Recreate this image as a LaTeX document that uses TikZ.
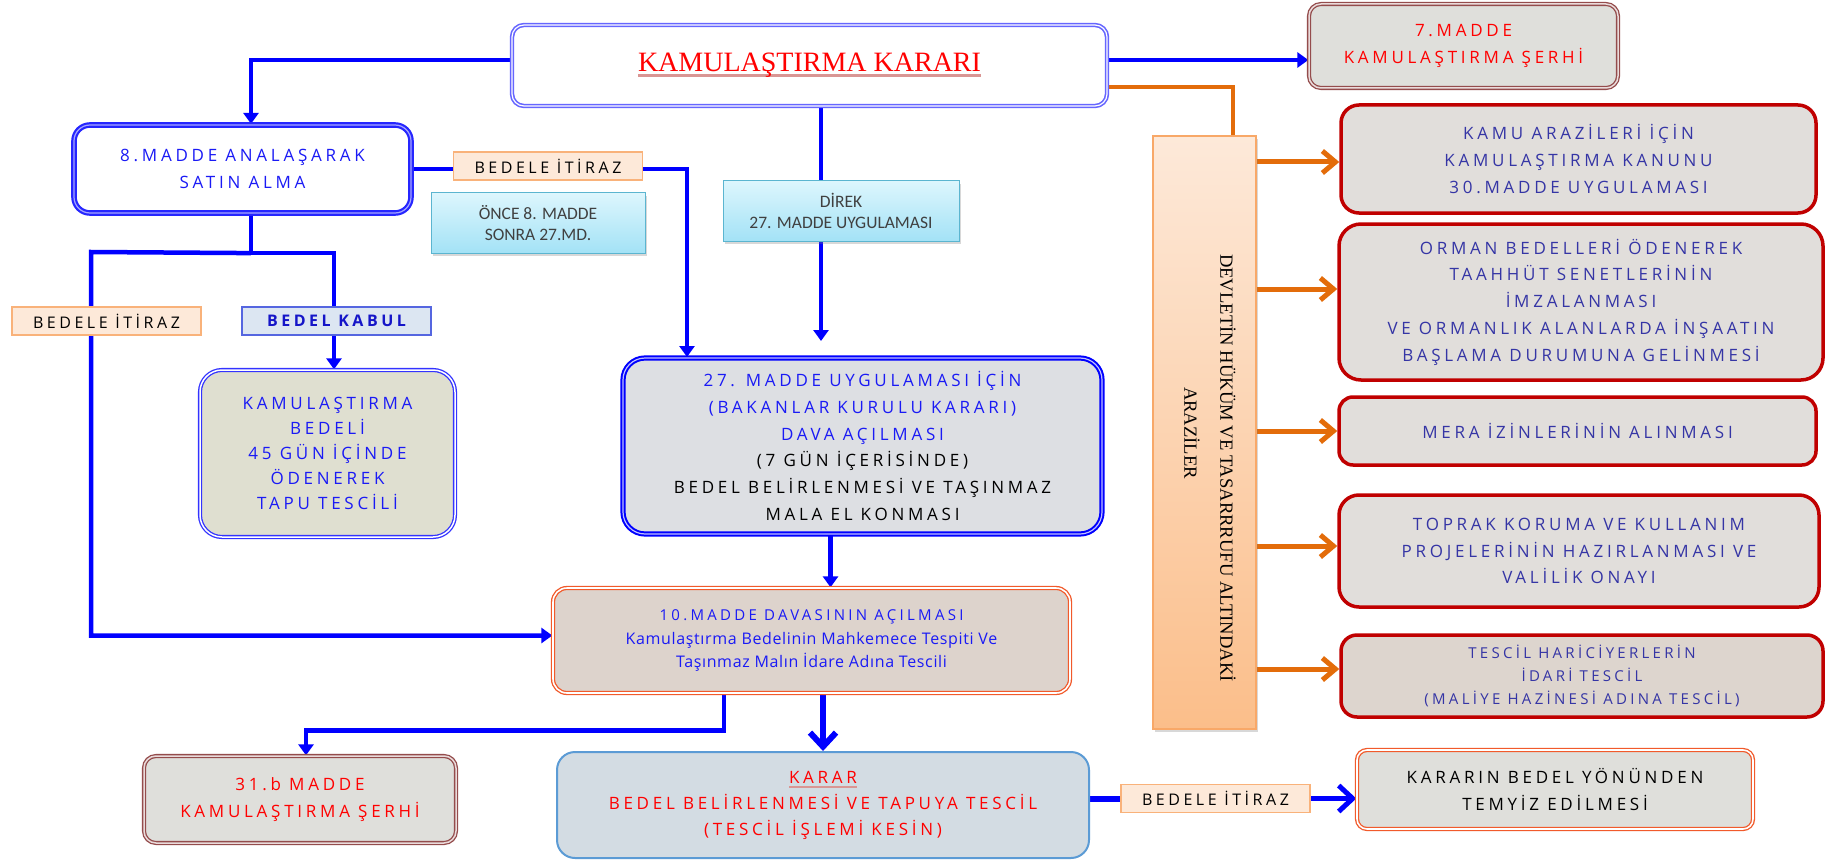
\documentclass[tikz,border=0pt]{standalone}
\usepackage{fontspec}
\setmainfont{Open Sans}[LetterSpace=22]
\newfontfamily\darfont{Open Sans}[LetterSpace=4]
\newfontfamily\serifyazi{Liberation Serif}
\newfontfamily\kalibri{Carlito}
\usetikzlibrary{arrows.meta, shadows, backgrounds, calc}

\definecolor{mavi}{HTML}{0000FF}
\definecolor{yazimavi}{HTML}{1A1AF5}
\definecolor{koyumavi}{HTML}{3535A5}
\definecolor{kirmizi}{HTML}{FF0000}
\definecolor{altcizgi}{HTML}{D99694}
\definecolor{turuncu}{HTML}{E36C0A}
\definecolor{bordo}{HTML}{C00000}
\definecolor{kahve}{HTML}{944C4C}
\definecolor{mercan}{HTML}{F15A2B}
\definecolor{seftali}{HTML}{FDE9D9}
\definecolor{seftalicizgi}{HTML}{F9B27A}
\definecolor{gri}{HTML}{E1DEDB}
\definecolor{r5dolgu}{HTML}{DDD5CE}
\definecolor{m27dolgu}{HTML}{DDDFE3}
\definecolor{bedeldolgu}{HTML}{DFDFD0}
\definecolor{m10dolgu}{HTML}{DDD3CC}
\definecolor{kesindolgu}{HTML}{D3DCE3}
\definecolor{kesincizgi}{HTML}{5B9BD5}
\definecolor{serhdolgu}{HTML}{DFDFDB}
\definecolor{camust}{HTML}{DDF6FD}
\definecolor{camalt}{HTML}{A3E2F6}
\definecolor{camcizgi}{HTML}{5BB5D0}
\definecolor{yazigri}{HTML}{404040}
\definecolor{kabuldolgu}{HTML}{DCE6F2}
\definecolor{kabulcizgi}{HTML}{5566E0}
\definecolor{kabulyazi}{HTML}{1515C8}
\definecolor{verust}{HTML}{FDE9D9}
\definecolor{veralt}{HTML}{FBBE8A}
\definecolor{vercizgi}{HTML}{F8A868}

% altı çizili yazı: #1 çizgi rengi, #2 yazı
\newcommand{\altcizgi}[2]{%
  \setbox0=\hbox{#2}%
  \rlap{\color{#1}\rule[-5pt]{\wd0}{2.5pt}}\box0}

\begin{document}
\begin{tikzpicture}[
  x=1pt, y=-1pt,
  kutu/.style={rounded corners=#1, align=center, inner sep=0pt},
  cizgi/.style={mavi, line width=4.5pt},
  ok/.style={cizgi, -{Triangle[length=11pt, width=15pt]}},
  kalinok/.style={mavi, line width=6pt, -{Straight Barb[length=14pt, width=26pt]}},
  turuncuok/.style={turuncu, line width=5pt, -{Straight Barb[length=13pt, width=22pt]}},
  etiket/.style={draw=seftalicizgi, fill=seftali, line width=1.5pt,
    minimum width=189pt, minimum height=28pt, inner sep=0pt,
    font=\fontsize{16}{20}\selectfont},
  camgobegi/.style={draw=camcizgi, top color=camust, bottom color=camalt,
    line width=1pt, minimum height=60pt, align=center, text=yazigri,
    font=\kalibri\fontsize{17.5}{21}\selectfont,
    drop shadow={shadow xshift=2pt, shadow yshift=-3pt, opacity=.3}},
  serh/.style={kutu=12pt, draw=kahve, double=kahve!20, line width=1.3pt,
    double distance=1.5pt, fill=serhdolgu, text=kirmizi,
    font=\fontsize{17}{26.7}\selectfont},
  ]
  % sayfa ve zemin
  \begin{pgfonlayer}{background}
    \path[use as bounding box, fill=white] (0,0) rectangle (1827,861);
  \end{pgfonlayer}

  % ana karar kutusu
  \node[kutu=12pt, draw=blue!60, double=white, line width=1.6pt,
  double distance=1.2pt, fill=white, minimum width=595pt, minimum height=81pt,
  text=kirmizi] (karar) at (809.5,65.5)
  {\serifyazi\fontsize{28}{32}\selectfont\altcizgi{altcizgi}{KAMULAŞTIRMA KARARI}};
  \node[serh, minimum width=309pt, minimum height=84pt] (serh7) at (1463.5,46)
  {7.MADDE\\KAMULAŞTIRMA ŞERHİ};

  % sol kol: anlaşarak satın alma
  \node[kutu=16pt, draw=mavi!85, double=mavi!35, line width=2.2pt,
  double distance=1.2pt, fill=white, minimum width=337pt, minimum height=88pt,
  text=yazimavi, font=\fontsize{17}{27}\selectfont] (madde8) at (242.5,169)
  {8.MADDE ANALAŞARAK\\SATIN ALMA};
  \node[etiket] (itiraz1) at (548,166) {BEDELE İTİRAZ};
  \node[camgobegi, minimum width=214pt] (once) at (538,223)
  {ÖNCE 8. MADDE\\SONRA 27.MD.};
  \node[etiket] (itiraz2) at (106.5,321) {BEDELE İTİRAZ};
  \node[draw=kabulcizgi, fill=kabuldolgu, line width=1.5pt, minimum width=189pt,
  minimum height=28pt, inner sep=0pt, text=kabulyazi,
  font=\bfseries\fontsize{16}{20}\selectfont] (kabul) at (336.5,321) {BEDEL KABUL};
  \node[kutu=22pt, draw=mavi!80, double=white, line width=1.3pt,
  double distance=1.5pt, fill=bedeldolgu, minimum width=255pt,
  minimum height=167pt, text=yazimavi, font=\fontsize{17}{25}\selectfont]
  (bedel) at (327.5,453.5)
  {KAMULAŞTIRMA\\BEDELİ\\45 GÜN İÇİNDE\\ÖDENEREK\\TAPU TESCİLİ};

  % orta kol: 27. madde
  \node[camgobegi, minimum width=236pt] (direk) at (841,211)
  {DİREK\\27. MADDE UYGULAMASI};
  \node[kutu=22pt, draw=mavi, double=mavi!25, line width=2pt,
  double distance=1.2pt, fill=m27dolgu, minimum width=479pt,
  minimum height=176pt, font=\fontsize{17}{26.7}\selectfont] (m27) at (862.5,446)
  {\textcolor{yazimavi}{27. MADDE UYGULAMASI İÇİN}\\
   \textcolor{yazimavi}{(BAKANLAR KURULU KARARI)}\\
   \textcolor{yazimavi}{DAVA AÇILMASI}\\
   (7 GÜN İÇERİSİNDE)\\
   BEDEL BELİRLENMESİ VE TAŞINMAZ\\
   MALA EL KONMASI};
  \node[kutu=14pt, draw=mercan, double=white, line width=1.3pt,
  double distance=1.6pt, fill=m10dolgu, minimum width=517pt,
  minimum height=105pt, text=yazimavi, font=\fontsize{15}{23.3}\selectfont]
  (m10) at (811.5,640.5)
  {10.MADDE DAVASININ AÇILMASI\\
   {\darfont\fontsize{16}{23.3}\selectfont Kamulaştırma Bedelinin Mahkemece Tespiti Ve}\\
   {\darfont\fontsize{16}{23.3}\selectfont Taşınmaz Malın İdare Adına Tescili}};

  % alt sıra
  \node[serh, minimum width=312pt, minimum height=87pt] (serh31) at (300,799.5)
  {31.b MADDE\\KAMULAŞTIRMA ŞERHİ};
  \node[kutu=18pt, draw=kesincizgi, line width=2pt, fill=kesindolgu,
  minimum width=532pt, minimum height=106pt, text=kirmizi,
  font=\fontsize{17}{26}\selectfont] (kesin) at (823,805)
  {\altcizgi{altcizgi}{KARAR}\\BEDEL BELİRLENMESİ VE TAPUYA TESCİL\\(TESCİL İŞLEMİ KESİN)};
  \node[etiket] (itiraz3) at (1215.5,798.5) {BEDELE İTİRAZ};
  \node[kutu=10pt, draw=mercan, double=white, line width=1.3pt,
  double distance=1.6pt, fill=serhdolgu, minimum width=396pt,
  minimum height=79pt, font=\fontsize{17}{26.7}\selectfont] (temyiz) at (1555,789.5)
  {KARARIN BEDEL YÖNÜNDEN\\TEMYİZ EDİLMESİ};

  % devlet arazileri
  \node[draw=vercizgi, top color=verust, bottom color=veralt, line width=1.2pt,
  minimum width=103pt, minimum height=593pt, inner sep=0pt,
  drop shadow={shadow xshift=2pt, shadow yshift=-3pt, opacity=.3}]
  (ver) at (1204.5,432.5) {};
  \node[rotate=-90, align=center, font=\serifyazi\fontsize{18.6}{36}\selectfont]
  (veryazi) at (1210,468)
  {DEVLETİN HÜKÜM VE TASARRRUFU ALTINDAKİ\\ARAZİLER\hspace*{70pt}};

  % sağdaki kırmızı kutular
  \foreach \ad/\x/\y/\w/\h/\yc/\yazi in {
    r1/1578.5/159/475/108/18/{KAMU ARAZİLERİ İÇİN\\KAMULAŞTIRMA KANUNU\\30.MADDE UYGULAMASI},
    r2/1581/302/484/156/22/{ORMAN BEDELLERİ ÖDENEREK\\TAAHHÜT SENETLERİNİN\\İMZALANMASI\\VE ORMANLIK ALANLARDA İNŞAATIN\\BAŞLAMA DURUMUNA GELİNMESİ},
    r3/1577.5/431/477/68/14/{MERA İZİNLERİNİN ALINMASI},
    r4/1579/551/480/112/20/{TOPRAK KORUMA VE KULLANIM\\PROJELERİNİN HAZIRLANMASI VE\\VALİLİK ONAYI}}
  {
    \node[kutu=\yc pt, draw=bordo, fill=gri, line width=3.5pt,
    minimum width=\w pt, minimum height=\h pt, text=koyumavi,
    font=\fontsize{17}{26.7}\selectfont] (\ad) at (\x,\y) {\yazi};
  }
  \node[kutu=16pt, draw=bordo, fill=r5dolgu, line width=3.5pt,
  minimum width=482pt, minimum height=82pt, text=koyumavi,
  font=\fontsize{15}{23}\selectfont] (r5) at (1582,676)
  {TESCİL HARİCİYERLERİN\\İDARİ TESCİL\\(MALİYE HAZİNESİ ADINA TESCİL)};

  % bağlantılar
  \begin{pgfonlayer}{background}
    \draw[ok] ([yshift=5.5pt]karar.west) -| ([xshift=8.5pt]madde8.north);
    \draw[ok] ([yshift=5.5pt]karar.east) -- ([yshift=5.5pt]karar.east -| serh7.west);
    \draw[turuncu, line width=4pt] ([yshift=-21.5pt]karar.east) -| ([xshift=28pt]ver.north);
    % direk 27. madde
    \draw[ok, shorten >=16pt] ([xshift=11.5pt]karar.south) -- ([xshift=11.5pt]karar.south |- m27.north);
    % bedele itiraz, önce 8 sonra 27
    \draw[cizgi] (madde8.east) -- (madde8.east -| itiraz1.west);
    \draw[ok] (itiraz1.east |- madde8.east) -| ([xshift=65pt]m27.north west);
    % anlaşma kolu ayrımı
    \coordinate (ayrim) at ($(madde8.south)+(8.5,39)$);
    \coordinate (sol) at (91,252);
    \draw[cizgi] ([xshift=8.5pt]madde8.south) -- (ayrim);
    \draw[ok] (ayrim) -| ([xshift=6.5pt]bedel.north);
    \draw[ok] (ayrim) -- (sol) |- ([yshift=5pt]m10.west);
    % dava akışı
    \draw[ok] ([xshift=-32pt]m27.south) -- ([xshift=-32pt]m27.south |- m10.north);
    \draw[kalinok] (m10.south -| kesin.north) -- (kesin.north);
    \draw[ok] ([xshift=-87.5pt]m10.south) -- ++(0,37) -| ([xshift=6pt]serh31.north);
    \draw[cizgi, line width=6pt] (kesin.east |- itiraz3.west) -- (itiraz3.west);
    \draw[kalinok, line width=5pt] (itiraz3.east) -- (itiraz3.east -| temyiz.west);
    % devlet arazilerinden oklar
    \foreach \ad/\dy in {r1/-3pt, r2/13pt, r3/0pt, r4/5pt, r5/7pt}
      \draw[turuncuok] ([yshift=\dy]ver.east |- \ad.west) -- ([yshift=\dy]\ad.west);
  \end{pgfonlayer}
\end{tikzpicture}
\end{document}
